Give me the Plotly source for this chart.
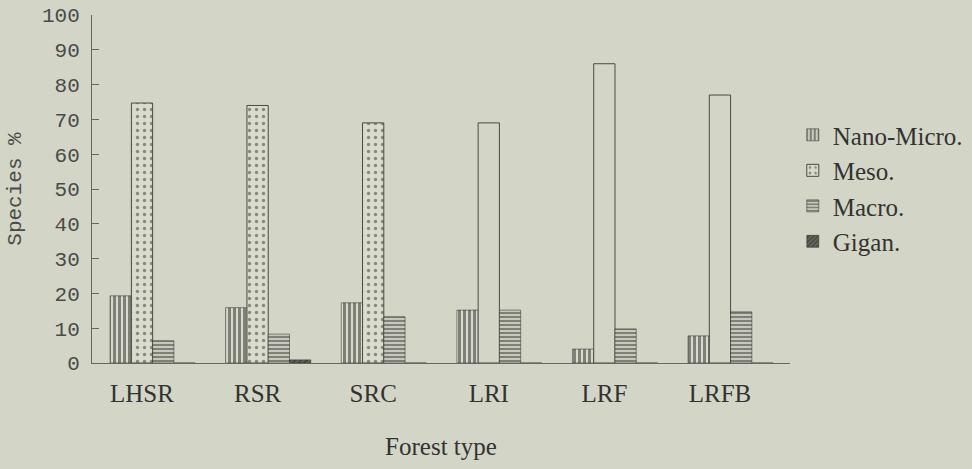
import plotly.graph_objects as go

categories = ["LHSR", "RSR", "SRC", "LRI", "LRF", "LRFB"]
nano_micro = [19.3, 15.9, 17.3, 15.2, 4.0, 7.8]
meso = [74.7, 74.0, 69.0, 69.0, 86.0, 77.0]
macro = [6.4, 8.3, 13.3, 15.2, 9.8, 14.7]
gigan = [0.0, 0.9, 0.0, 0.0, 0.0, 0.0]
y_ticks = [0, 10, 20, 30, 40, 50, 60, 70, 80, 90, 100]

BG = "#d3d6c6"
INK = "#262622"
BW = 0.184  # bar width in category units

fig = go.Figure()
fig.add_trace(go.Bar(
    name="Nano-Micro.", x=categories, y=nano_micro, width=BW, offset=-1.5 * BW,
    marker=dict(color=BG, line=dict(color=INK, width=0.5),
                pattern=dict(shape="|", fgcolor=INK, bgcolor="#d8dacd", size=5, solidity=0.6)),
))
fig.add_trace(go.Bar(
    name="Meso.", x=categories, y=meso, width=BW, offset=-0.5 * BW,
    marker=dict(color=BG, line=dict(color="#4a4a45", width=1),
                pattern=dict(shape=[".", ".", ".", "", "", ""], fgcolor="#34342f",
                             bgcolor="#d9dbcd", size=7, solidity=0.18)),
))
fig.add_trace(go.Bar(
    name="Macro.", x=categories, y=macro, width=BW, offset=0.5 * BW,
    marker=dict(color=BG, line=dict(color=INK, width=0.5),
                pattern=dict(shape="-", fgcolor=INK, bgcolor="#d8dacd", size=4, solidity=0.6)),
))
fig.add_trace(go.Bar(
    name="Gigan.", x=categories, y=gigan, width=BW, offset=1.5 * BW,
    marker=dict(color="#3a3a35", line=dict(color=INK, width=0.5),
                pattern=dict(shape="/", fgcolor=INK, bgcolor="#6a6a62", size=4, solidity=0.55)),
))

fig.update_layout(
    width=972, height=469,
    margin=dict(l=92, r=182, t=15, b=106, autoexpand=False),
    paper_bgcolor=BG, plot_bgcolor=BG,
    barmode="overlay",
    showlegend=True,
    legend=dict(x=1.004, y=0.721, xanchor="left", yanchor="top",
                font=dict(family="Liberation Serif", size=25, color="#333"),
                bgcolor="rgba(0,0,0,0)", itemwidth=30, tracegroupgap=0),
    font=dict(family="Liberation Serif", color="#333"),
)
fig.update_yaxes(
    range=[0, 100], tickvals=y_ticks, ticks="inside", ticklen=7, tickcolor="#666",
    showline=True, linecolor="#666", linewidth=1, showgrid=False, zeroline=False,
    automargin=False, ticklabelstandoff=7,
    tickfont=dict(family="Liberation Mono", size=21, color="#4a4a4a"),
    title=dict(text="Species %", font=dict(family="Liberation Mono", size=21, color="#4a4a4a"), standoff=14),
)
fig.update_xaxes(
    range=[-0.4325, 5.606],
    showline=True, linecolor="#666", linewidth=1, showgrid=False, ticks="",
    automargin=False, ticklabelstandoff=8,
    tickfont=dict(family="Liberation Serif", size=25, color="#333"),
    title=dict(text="Forest type", font=dict(family="Liberation Serif", size=25, color="#333"), standoff=31),
)

fig.write_html("out.html", config={"displayModeBar": False},
               post_script="document.body.style.margin='0';document.body.style.padding='0';")
